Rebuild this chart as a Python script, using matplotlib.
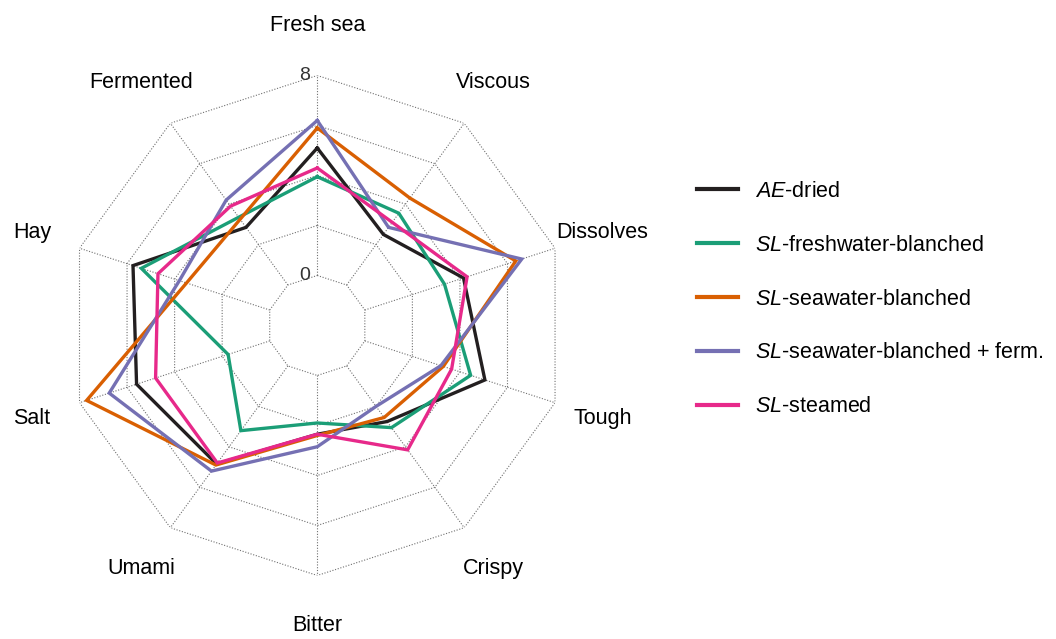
import numpy as np
import matplotlib
matplotlib.use("Agg")
import matplotlib.pyplot as plt
from matplotlib.lines import Line2D

plt.rcParams["font.family"] = ["Liberation Sans", "DejaVu Sans"]
plt.rcParams["mathtext.fontset"] = "custom"
plt.rcParams["mathtext.rm"] = "Liberation Sans"
plt.rcParams["mathtext.it"] = "Liberation Sans:italic"

# attributes, clockwise from the top
attributes = ["Fresh sea", "Viscous", "Dissolves", "Tough", "Crispy",
              "Bitter", "Umami", "Salt", "Hay", "Fermented"]

ae_dried = [5.1, 2.5, 4.15, 5.05, 2.75, 2.35, 4.85, 5.6, 5.75, 2.85]
sl_fresh_blanched = [3.95, 3.55, 3.35, 4.45, 3.05, 1.9, 3.2, 1.75, 5.4, 3.35]
sl_sea_blanched = [5.9, 4.3, 6.35, 3.3, 2.55, 2.4, 4.9, 7.7, 3.5, 3.25]
sl_sea_blanched_ferm = [6.2, 2.85, 6.6, 3.2, 2.0, 2.85, 5.2, 6.75, 3.8, 4.2]
sl_steamed = [4.3, 3.1, 4.3, 3.65, 4.15, 2.35, 4.8, 4.8, 4.7, 3.9]

series = [
    (r"$\it{AE}$-dried", ae_dried, "#231f20"),
    (r"$\it{SL}$-freshwater-blanched", sl_fresh_blanched, "#1b9e77"),
    (r"$\it{SL}$-seawater-blanched", sl_sea_blanched, "#d95f02"),
    (r"$\it{SL}$-seawater-blanched + ferm.", sl_sea_blanched_ferm, "#7570b3"),
    (r"$\it{SL}$-steamed", sl_steamed, "#e7298a"),
]

rings = [0, 2, 4, 6, 8]
r_min, r_max = -2, 8
label_r = 10

n = len(attributes)
theta = np.arange(n) * 2 * np.pi / n
theta_closed = np.append(theta, theta[0])

fig = plt.figure(figsize=(10.56, 6.39), dpi=100)
ax = fig.add_axes([0.0637, 0.0994, 0.4735, 0.7825], projection="polar")
ax.set_theta_zero_location("N")
ax.set_theta_direction(-1)
ax.set_ylim(r_min, r_max)
ax.grid(False)
ax.spines["polar"].set_visible(False)
ax.set_xticks([])
ax.set_yticks([])
ax.patch.set_alpha(0)

grid_kw = dict(color="#707070", lw=0.8, ls=(0, (1, 1.5)), zorder=1)
for r in rings:
    ax.plot(theta_closed, [r] * (n + 1), **grid_kw)
for t in theta:
    ax.plot([t, t], [rings[0], rings[-1]], **grid_kw)

for label, vals, color in series:
    ax.plot(theta_closed, list(vals) + [vals[0]], color=color, lw=2.4,
            solid_joinstyle="miter", zorder=3)

for r in (rings[0], rings[-1]):
    ax.annotate(str(r), xy=(0, r), xytext=(-9, 0), textcoords="offset points",
                ha="center", va="center", fontsize=14, color="#333333")

for t, name in zip(theta, attributes):
    ax.text(t, label_r, name, ha="center", va="center", fontsize=15.5,
            clip_on=False)

handles = [Line2D([], [], color=c, lw=3) for _, _, c in series]
labels = [l for l, _, _ in series]
fig.legend(handles, labels, loc="center left", bbox_to_anchor=(0.642, 0.532),
           frameon=False, fontsize=15.5, handlelength=1.9, handletextpad=0.8,
           labelspacing=1.53)

fig.savefig("out.png", dpi=100)
